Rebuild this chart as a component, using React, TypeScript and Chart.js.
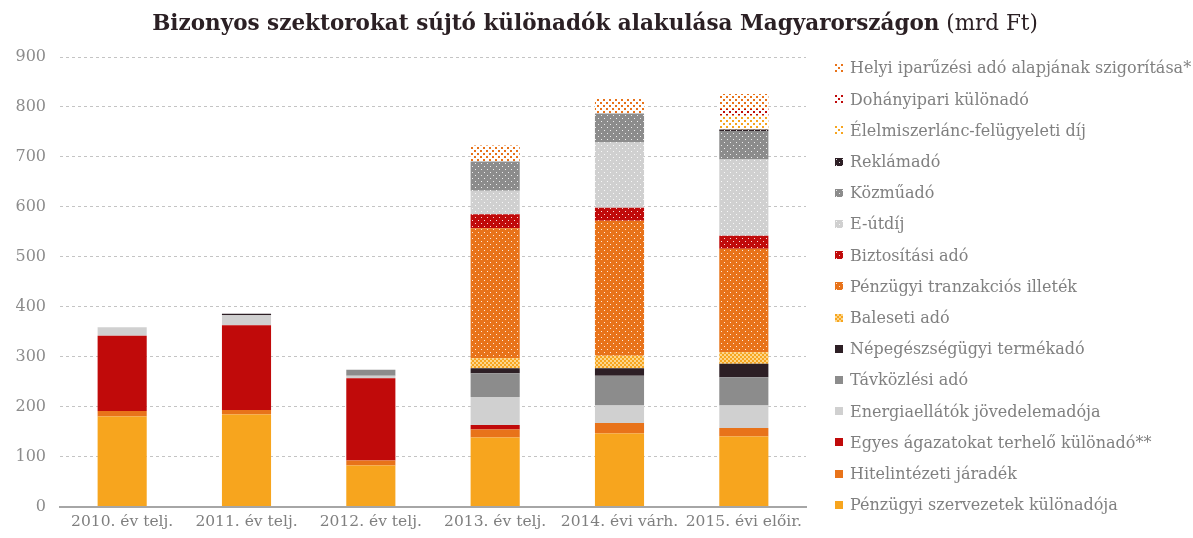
import React, { useEffect, useMemo, useRef } from "react";
import { Chart, registerables } from "chart.js";

Chart.register(...registerables);

const W = 1193;
const H = 538;

const categories = [
  "2010. év telj.",
  "2011. év telj.",
  "2012. év telj.",
  "2013. év telj.",
  "2014. évi várh.",
  "2015. évi előir.",
];

const yTicks = [0, 100, 200, 300, 400, 500, 600, 700, 800, 900];

// Series, bottom of stack first
const penzugyiSzervezetek = [180, 184, 82, 138, 146, 140];
const hitelintezetiJaradek = [11, 9, 10, 16, 21, 17];
const egyesAgazatok = [151, 170, 165, 9, 0, 0];
const energiaellatok = [17, 20, 5, 56, 35, 45];
const tavkozlesi = [0, 0, 12, 48, 60, 57];
const nepegeszsegugyi = [0, 3, 0, 10, 15, 27];
const baleseti = [0, 0, 0, 20, 25, 23];
const tranzakcios = [0, 0, 0, 260, 270, 207];
const biztositasi = [0, 0, 0, 28, 26, 26];
const eUtdij = [0, 0, 0, 47, 131, 153];
const kozmuado = [0, 0, 0, 59, 58, 57];
const reklamado = [0, 0, 0, 0, 0, 3];
const elelmiszerlanc = [0, 0, 0, 0, 0, 28];
const dohanyipari = [0, 0, 0, 0, 0, 13];
const helyiIparuzesi = [0, 0, 0, 32, 30, 30];

const C_YELLOW = "#F7A51E";
const C_ORANGE = "#E8731A";
const C_RED = "#C00A0A";
const C_LGREY = "#D0D0D0";
const C_GREY = "#8C8C8C";
const C_DARK = "#2D1F25";

type Fill = { kind: "solid" | "dotsOn" | "dotsOff" | "check"; color: string };

const series: { label: string; data: number[]; fill: Fill }[] = [
  { label: "Pénzügyi szervezetek különadója", data: penzugyiSzervezetek, fill: { kind: "solid", color: C_YELLOW } },
  { label: "Hitelintézeti járadék", data: hitelintezetiJaradek, fill: { kind: "solid", color: C_ORANGE } },
  { label: "Egyes ágazatokat terhelő különadó**", data: egyesAgazatok, fill: { kind: "solid", color: C_RED } },
  { label: "Energiaellátók jövedelemadója", data: energiaellatok, fill: { kind: "solid", color: C_LGREY } },
  { label: "Távközlési adó", data: tavkozlesi, fill: { kind: "solid", color: C_GREY } },
  { label: "Népegészségügyi termékadó", data: nepegeszsegugyi, fill: { kind: "solid", color: C_DARK } },
  { label: "Baleseti adó", data: baleseti, fill: { kind: "check", color: C_YELLOW } },
  { label: "Pénzügyi tranzakciós illeték", data: tranzakcios, fill: { kind: "dotsOn", color: C_ORANGE } },
  { label: "Biztosítási adó", data: biztositasi, fill: { kind: "dotsOn", color: C_RED } },
  { label: "E-útdíj", data: eUtdij, fill: { kind: "dotsOn", color: C_LGREY } },
  { label: "Közműadó", data: kozmuado, fill: { kind: "dotsOn", color: C_GREY } },
  { label: "Reklámadó", data: reklamado, fill: { kind: "dotsOn", color: C_DARK } },
  { label: "Élelmiszerlánc-felügyeleti díj", data: elelmiszerlanc, fill: { kind: "dotsOff", color: C_YELLOW } },
  { label: "Dohányipari különadó", data: dohanyipari, fill: { kind: "dotsOff", color: C_RED } },
  { label: "Helyi iparűzési adó alapjának szigorítása*", data: helyiIparuzesi, fill: { kind: "dotsOff", color: C_ORANGE } },
];

function makeTile(f: Fill): HTMLCanvasElement {
  const c = document.createElement("canvas");
  const g = c.getContext("2d")!;
  if (f.kind === "solid") {
    c.width = 4; c.height = 4;
    g.fillStyle = f.color; g.fillRect(0, 0, 4, 4);
  } else if (f.kind === "dotsOn") {
    c.width = 6; c.height = 6;
    g.fillStyle = f.color; g.fillRect(0, 0, 6, 6);
    g.fillStyle = "rgba(255,255,255,0.85)";
    g.fillRect(1, 1, 1, 1);
    g.fillRect(4, 4, 1, 1);
  } else if (f.kind === "dotsOff") {
    c.width = 6; c.height = 6;
    g.fillStyle = "#ffffff"; g.fillRect(0, 0, 6, 6);
    g.fillStyle = f.color;
    g.fillRect(0, 0, 2, 2);
    g.fillRect(3, 3, 2, 2);
  } else {
    c.width = 4; c.height = 4;
    g.fillStyle = "#FCD68C"; g.fillRect(0, 0, 4, 4);
    g.fillStyle = f.color;
    g.fillRect(0, 0, 2, 2);
    g.fillRect(2, 2, 2, 2);
  }
  return c;
}

const FONT = "'DejaVu Serif', 'Liberation Serif', serif";

export default function App() {
  const ref = useRef<HTMLCanvasElement>(null);
  const tiles = useMemo(() => series.map((s) => makeTile(s.fill)), []);

  useEffect(() => {
    const canvas = ref.current!;
    const ctx = canvas.getContext("2d")!;
    const datasets = series.map((s, i) => ({
      label: s.label,
      data: s.data,
      backgroundColor: ctx.createPattern(tiles[i], "repeat") as any,
      borderWidth: 0,
      barPercentage: 0.395,
      categoryPercentage: 1,
      stack: "total",
    }));
    const chart = new Chart(ctx, {
      type: "bar",
      data: { labels: categories, datasets },
      options: {
        responsive: false,
        animation: false,
        devicePixelRatio: 1,
        layout: { padding: { top: 57, right: W - 806, left: 0, bottom: 0 } },
        plugins: {
          legend: { display: false },
          title: { display: false },
          tooltip: { enabled: false },
        },
        scales: {
          x: {
            stacked: true,
            grid: { display: false, drawTicks: false },
            border: { display: true, color: "#A6A6A6", width: 2 },
            ticks: {
              color: "#7F7F7F",
              font: { family: FONT, size: 15.5 },
              padding: 6,
              maxRotation: 0,
              autoSkip: false,
            },
            afterFit: (scale: any) => {
              scale.height = 31.5;
            },
          },
          y: {
            stacked: true,
            min: 0,
            max: 900,
            afterBuildTicks: (scale: any) => {
              scale.ticks = yTicks.map((v) => ({ value: v }));
            },
            grid: {
              color: "#C4C4C4",
              lineWidth: 1,
              drawTicks: false,
            },
            border: { display: false, dash: [3, 3] },
            ticks: {
              color: "#8C8C8C",
              font: { family: FONT, size: 16 },
              padding: 14,
            },
            afterFit: (scale: any) => {
              scale.width = 60;
            },
          },
        },
      },
    });
    return () => chart.destroy();
  }, [tiles]);

  const legendItems = [...series].reverse();
  const legendTiles = [...tiles].reverse();

  return (
    <div style={{ position: "fixed", left: 0, top: 0, width: W, height: H, background: "#fff", overflow: "hidden" }}>
      <canvas ref={ref} width={W} height={H} style={{ position: "absolute", left: 0, top: 0, width: W, height: H }} />
      <div
        style={{
          position: "absolute",
          left: 0,
          top: 8,
          width: 1190,
          textAlign: "center",
          fontFamily: FONT,
          fontSize: 21.5,
          lineHeight: "30px",
          color: "#2B2024",
          whiteSpace: "nowrap",
        }}
      >
        <span style={{ fontWeight: "bold" }}>Bizonyos szektorokat sújtó különadók alakulása Magyarországon</span>
        <span> (mrd Ft)</span>
      </div>
      {legendItems.map((s, i) => (
        <div
          key={s.label}
          style={{
            position: "absolute",
            left: 835,
            top: 52.4 + i * 31.2,
            height: 31.2,
            display: "flex",
            alignItems: "center",
            fontFamily: FONT,
            fontSize: 16,
            color: "#808080",
            whiteSpace: "nowrap",
          }}
        >
          <span
            style={{
              display: "inline-block",
              width: 8,
              height: 8,
              marginRight: 7,
              backgroundImage: `url(${legendTiles[i].toDataURL()})`,
              backgroundRepeat: "repeat",
            }}
          />
          <span>{s.label}</span>
        </div>
      ))}
    </div>
  );
}
